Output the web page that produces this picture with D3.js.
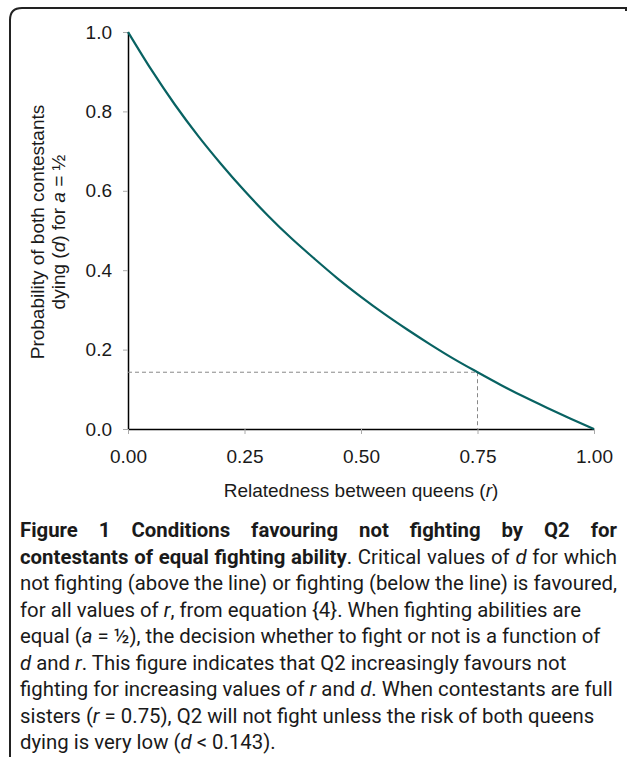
<!DOCTYPE html>
<html>
<head>
<meta charset="utf-8">
<script src="https://cdn.jsdelivr.net/npm/d3@7"></script>
<style>
  body { margin: 0; background: #fff; }
  svg { display: block; }
</style>
</head>
<body>
<script>
var width = 627,
    height = 757;

// Relatedness between queens (r) and critical d
var rValues = [0, 0.05, 0.10, 0.15, 0.20, 0.25, 0.30, 0.35, 0.40, 0.45, 0.50,
               0.55, 0.60, 0.65, 0.70, 0.75, 0.80, 0.85, 0.90, 0.95, 1.00];
var dValues = [1.000, 0.905, 0.818, 0.739, 0.667, 0.600, 0.538, 0.481, 0.429, 0.379, 0.333,
               0.290, 0.250, 0.212, 0.176, 0.143, 0.111, 0.081, 0.053, 0.026, 0.000];
// the marked point for full sisters
var markR = 0.75,
    markD = 0.143;
var xTicks = [0, 0.25, 0.5, 0.75, 1];
var yTicks = [0, 0.2, 0.4, 0.6, 0.8, 1.0];

var svg = d3.select("body").append("svg")
    .attr("width", width)
    .attr("height", height);

// frame round the figure (open at right and bottom)
svg.append("path")
    .attr("d", "M626,11 L626,8 L22,8 Q10,8 10,20 L10,757")
    .attr("fill", "none")
    .attr("stroke", "#222")
    .attr("stroke-width", 2);

var x = d3.scaleLinear().domain([0, 1]).range([128, 594]);
var y = d3.scaleLinear().domain([0, 1]).range([429, 32]);

var axisFont = "'Liberation Sans', Arial, sans-serif";

// y axis
var gy = svg.append("g")
    .attr("transform", "translate(" + x(0) + ",0)")
    .call(d3.axisLeft(y).tickValues(yTicks).tickFormat(d3.format(".1f"))
      .tickSize(5).tickSizeOuter(0).tickPadding(11));
// x axis
var gx = svg.append("g")
    .attr("transform", "translate(0," + y(0) + ")")
    .call(d3.axisBottom(x).tickValues(xTicks).tickFormat(d3.format(".2f"))
      .tickSize(5).tickSizeOuter(0).tickPadding(16));

[gx, gy].forEach(function(g) {
  g.select(".domain").attr("stroke", "#000").attr("stroke-width", 1.5);
  g.selectAll(".tick line").attr("stroke", "#aaa");
  g.selectAll(".tick text")
    .attr("fill", "#1a1a1a")
    .style("font-family", axisFont)
    .style("font-size", "19px");
});

// dashed guides at r = 0.75
svg.append("line")
    .attr("x1", x(0)).attr("x2", x(markR))
    .attr("y1", y(markD)).attr("y2", y(markD))
    .attr("stroke", "#888").attr("stroke-width", 1)
    .attr("stroke-dasharray", "4,3");
svg.append("line")
    .attr("x1", x(markR)).attr("x2", x(markR))
    .attr("y1", y(markD)).attr("y2", y(0))
    .attr("stroke", "#888").attr("stroke-width", 1)
    .attr("stroke-dasharray", "4,3");

// the curve
var line = d3.line()
    .x(function(d, i) { return x(rValues[i]); })
    .y(function(d) { return y(d); })
    .curve(d3.curveMonotoneX);

svg.append("path")
    .datum(dValues)
    .attr("d", line)
    .attr("fill", "none")
    .attr("stroke", "#086262")
    .attr("stroke-width", 2.2);

// axis titles
var xt = svg.append("text")
    .attr("x", (x(0) + x(1)) / 2)
    .attr("y", 497)
    .attr("text-anchor", "middle")
    .style("font-family", axisFont)
    .style("font-size", "19px")
    .attr("fill", "#1a1a1a");
xt.append("tspan").text("Relatedness between queens (");
xt.append("tspan").style("font-style", "italic").text("r");
xt.append("tspan").text(")");

var yt = svg.append("text")
    .attr("transform", "translate(44,232) rotate(-90)")
    .attr("text-anchor", "middle")
    .style("font-family", axisFont)
    .style("font-size", "19px")
    .attr("fill", "#1a1a1a");
yt.append("tspan").attr("x", 0).attr("y", 0).text("Probability of both contestants");
var l2 = yt.append("tspan").attr("x", 0).attr("y", 21);
l2.append("tspan").text("dying (");
l2.append("tspan").style("font-style", "italic").text("d");
l2.append("tspan").text(") for ");
l2.append("tspan").style("font-style", "italic").text("a");
l2.append("tspan").text(" = \u00bd");

// caption: each line is a list of [text, style] parts
var captionLines = [
  [["Figure 1 Conditions favouring not fighting by Q2 for", "b"]],
  [["contestants of equal fighting ability", "b"], [". Critical values of ", ""], ["d", "i"], [" for which", ""]],
  [["not fighting (above the line) or fighting (below the line) is favoured,", ""]],
  [["for all values of ", ""], ["r", "i"], [", from equation {4}. When fighting abilities are", ""]],
  [["equal (", ""], ["a", "i"], [" = \u00bd), the decision whether to fight or not is a function of", ""]],
  [["d", "i"], [" and ", ""], ["r", "i"], [". This figure indicates that Q2 increasingly favours not", ""]],
  [["fighting for increasing values of ", ""], ["r", "i"], [" and ", ""], ["d", "i"], [". When contestants are full", ""]],
  [["sisters (", ""], ["r", "i"], [" = 0.75), Q2 will not fight unless the risk of both queens", ""]],
  [["dying is very low (", ""], ["d", "i"], [" < 0.143).", ""]]
];
var justified = [true, true, false, false, false, false, false, false, false];

var capX = 20, capRight = 617, capY0 = 537, capStep = 26.5;
var cap = svg.append("g")
    .style("font-family", "Roboto, 'Open Sans', sans-serif")
    .style("font-size", "17px")
    .attr("fill", "#1a1a1a");

var capTexts = captionLines.map(function(parts, i) {
  var t = cap.append("text")
      .attr("x", capX)
      .attr("y", capY0 + i * capStep)
      .attr("xml:space", "preserve");
  parts.forEach(function(p) {
    var s = t.append("tspan").text(p[0]);
    if (p[1] == "b") s.style("font-weight", "bold");
    if (p[1] == "i") s.style("font-style", "italic");
  });
  return t;
});

// fit font size so the full line 3 reaches the right margin
var natural = capTexts[2].node().getComputedTextLength();
var fs = 17 * (capRight - capX) / natural;
cap.style("font-size", fs + "px");

// justify the first two lines by spreading the word gaps
capTexts.forEach(function(t, i) {
  if (!justified[i]) return;
  var len = t.node().getComputedTextLength();
  var spaces = t.text().split(" ").length - 1;
  t.attr("word-spacing", ((capRight - capX) - len) / spaces);
});
</script>
</body>
</html>
